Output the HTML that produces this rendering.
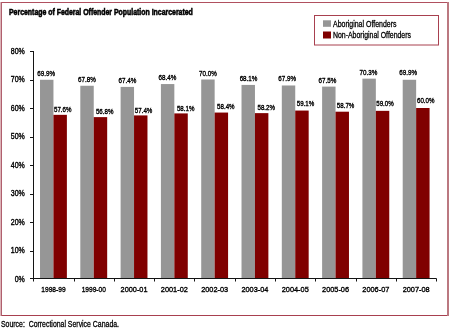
<!DOCTYPE html>
<html><head><meta charset="utf-8"><style>
html,body{margin:0;padding:0;background:#fff;width:450px;height:330px;overflow:hidden}
svg{display:block;position:absolute;left:0;top:0}
.t{filter:grayscale(1)}
</style></head><body>
<svg width="450" height="330" viewBox="0 0 450 330">
<rect x="0" y="2" width="1" height="314" fill="#dcb4b8"/>
<rect x="1" y="2" width="447" height="1" fill="#b0505f"/>
<rect x="1" y="315" width="448" height="1" fill="#a8404f"/>
<rect x="1" y="2" width="1" height="314" fill="#b0606e"/>
<rect x="447" y="2" width="2" height="314" fill="#bb7880"/>
<rect x="314.5" y="15.5" width="124" height="29.5" fill="none" stroke="#a8404f" stroke-width="1"/>
<rect x="323" y="20.3" width="8" height="6.5" fill="#969696"/>
<rect x="323" y="31.5" width="8" height="7" fill="#800000"/>
<rect x="40.02" y="79.78" width="13.43" height="199.22" fill="#969696"/>
<rect x="53.45" y="114.84" width="13.43" height="164.16" fill="#800000"/>
<rect x="80.31" y="85.77" width="13.43" height="193.23" fill="#969696"/>
<rect x="93.75" y="117.12" width="13.43" height="161.88" fill="#800000"/>
<rect x="120.61" y="86.91" width="13.43" height="192.09" fill="#969696"/>
<rect x="134.04" y="115.41" width="13.43" height="163.59" fill="#800000"/>
<rect x="160.91" y="84.06" width="13.43" height="194.94" fill="#969696"/>
<rect x="174.34" y="113.41" width="13.43" height="165.59" fill="#800000"/>
<rect x="201.22" y="79.50" width="13.43" height="199.50" fill="#969696"/>
<rect x="214.65" y="112.56" width="13.43" height="166.44" fill="#800000"/>
<rect x="241.52" y="84.92" width="13.43" height="194.08" fill="#969696"/>
<rect x="254.95" y="113.13" width="13.43" height="165.87" fill="#800000"/>
<rect x="281.81" y="85.48" width="13.43" height="193.52" fill="#969696"/>
<rect x="295.24" y="110.56" width="13.43" height="168.44" fill="#800000"/>
<rect x="322.11" y="86.62" width="13.43" height="192.38" fill="#969696"/>
<rect x="335.54" y="111.70" width="13.43" height="167.30" fill="#800000"/>
<rect x="362.41" y="78.65" width="13.43" height="200.35" fill="#969696"/>
<rect x="375.84" y="110.85" width="13.43" height="168.15" fill="#800000"/>
<rect x="402.71" y="79.78" width="13.43" height="199.22" fill="#969696"/>
<rect x="416.14" y="108.00" width="13.43" height="171.00" fill="#800000"/>
<line x1="33.5" y1="51" x2="33.5" y2="279" stroke="#141414" stroke-width="1"/>
<line x1="30" y1="278.5" x2="436.5" y2="278.5" stroke="#141414" stroke-width="1"/>
<line x1="30" y1="278.5" x2="33.5" y2="278.5" stroke="#141414" stroke-width="1"/>
<line x1="30" y1="251.5" x2="33.5" y2="251.5" stroke="#141414" stroke-width="1"/>
<line x1="30" y1="222.5" x2="33.5" y2="222.5" stroke="#141414" stroke-width="1"/>
<line x1="30" y1="194.5" x2="33.5" y2="194.5" stroke="#141414" stroke-width="1"/>
<line x1="30" y1="165.5" x2="33.5" y2="165.5" stroke="#141414" stroke-width="1"/>
<line x1="30" y1="137.5" x2="33.5" y2="137.5" stroke="#141414" stroke-width="1"/>
<line x1="30" y1="108.5" x2="33.5" y2="108.5" stroke="#141414" stroke-width="1"/>
<line x1="30" y1="80.5" x2="33.5" y2="80.5" stroke="#141414" stroke-width="1"/>
<line x1="30" y1="51.5" x2="33.5" y2="51.5" stroke="#141414" stroke-width="1"/>
<line x1="33.5" y1="278.5" x2="33.5" y2="281.5" stroke="#141414" stroke-width="1"/>
<line x1="74.5" y1="278.5" x2="74.5" y2="281.5" stroke="#141414" stroke-width="1"/>
<line x1="114.5" y1="278.5" x2="114.5" y2="281.5" stroke="#141414" stroke-width="1"/>
<line x1="154.5" y1="278.5" x2="154.5" y2="281.5" stroke="#141414" stroke-width="1"/>
<line x1="194.5" y1="278.5" x2="194.5" y2="281.5" stroke="#141414" stroke-width="1"/>
<line x1="235.5" y1="278.5" x2="235.5" y2="281.5" stroke="#141414" stroke-width="1"/>
<line x1="275.5" y1="278.5" x2="275.5" y2="281.5" stroke="#141414" stroke-width="1"/>
<line x1="315.5" y1="278.5" x2="315.5" y2="281.5" stroke="#141414" stroke-width="1"/>
<line x1="356.5" y1="278.5" x2="356.5" y2="281.5" stroke="#141414" stroke-width="1"/>
<line x1="396.5" y1="278.5" x2="396.5" y2="281.5" stroke="#141414" stroke-width="1"/>
<line x1="436.5" y1="278.5" x2="436.5" y2="281.5" stroke="#141414" stroke-width="1"/>
</svg>
<svg class="t" width="450" height="330" viewBox="0 0 450 330">
<text x="9" y="15.3" font-family='"Liberation Sans", sans-serif' font-weight="bold" font-size="8.3" textLength="183.8" lengthAdjust="spacingAndGlyphs" fill="#000" stroke="#000" stroke-width="0.55">Percentage of Federal Offender Population Incarcerated</text>
<text x="333" y="27" font-family='"Liberation Sans", sans-serif' font-size="8.4" textLength="63.5" lengthAdjust="spacingAndGlyphs" fill="#000" stroke="#000" stroke-width="0.3">Aboriginal Offenders</text>
<text x="333" y="38.3" font-family='"Liberation Sans", sans-serif' font-size="8.4" textLength="78" lengthAdjust="spacingAndGlyphs" fill="#000" stroke="#000" stroke-width="0.3">Non-Aboriginal Offenders</text>
<text x="46.13" y="75.98" text-anchor="middle" font-family='"Liberation Sans", sans-serif' font-size="7" textLength="17.8" lengthAdjust="spacingAndGlyphs" fill="#000" stroke="#000" stroke-width="0.35">69.9%</text>
<text x="62.71" y="111.54" text-anchor="middle" font-family='"Liberation Sans", sans-serif' font-size="7" textLength="17.5" lengthAdjust="spacingAndGlyphs" fill="#000" stroke="#000" stroke-width="0.35">57.6%</text>
<text x="53.45" y="291.9" text-anchor="middle" font-family='"Liberation Sans", sans-serif' font-size="8" textLength="24.2" lengthAdjust="spacingAndGlyphs" fill="#000" stroke="#000" stroke-width="0.35">1998-99</text>
<text x="86.93" y="81.97" text-anchor="middle" font-family='"Liberation Sans", sans-serif' font-size="7" textLength="17.8" lengthAdjust="spacingAndGlyphs" fill="#000" stroke="#000" stroke-width="0.35">67.8%</text>
<text x="104.66" y="113.62" text-anchor="middle" font-family='"Liberation Sans", sans-serif' font-size="7" textLength="17.5" lengthAdjust="spacingAndGlyphs" fill="#000" stroke="#000" stroke-width="0.35">56.8%</text>
<text x="93.75" y="291.9" text-anchor="middle" font-family='"Liberation Sans", sans-serif' font-size="8" textLength="24.2" lengthAdjust="spacingAndGlyphs" fill="#000" stroke="#000" stroke-width="0.35">1999-00</text>
<text x="127.33" y="82.91" text-anchor="middle" font-family='"Liberation Sans", sans-serif' font-size="7" textLength="17.8" lengthAdjust="spacingAndGlyphs" fill="#000" stroke="#000" stroke-width="0.35">67.4%</text>
<text x="143.61" y="113.11" text-anchor="middle" font-family='"Liberation Sans", sans-serif' font-size="7" textLength="17.5" lengthAdjust="spacingAndGlyphs" fill="#000" stroke="#000" stroke-width="0.35">57.4%</text>
<text x="134.05" y="291.9" text-anchor="middle" font-family='"Liberation Sans", sans-serif' font-size="8" textLength="27" lengthAdjust="spacingAndGlyphs" fill="#000" stroke="#000" stroke-width="0.35">2000-01</text>
<text x="167.38" y="80.16" text-anchor="middle" font-family='"Liberation Sans", sans-serif' font-size="7" textLength="17.8" lengthAdjust="spacingAndGlyphs" fill="#000" stroke="#000" stroke-width="0.35">68.4%</text>
<text x="185.66" y="110.51" text-anchor="middle" font-family='"Liberation Sans", sans-serif' font-size="7" textLength="17.5" lengthAdjust="spacingAndGlyphs" fill="#000" stroke="#000" stroke-width="0.35">58.1%</text>
<text x="174.35" y="291.9" text-anchor="middle" font-family='"Liberation Sans", sans-serif' font-size="8" textLength="27" lengthAdjust="spacingAndGlyphs" fill="#000" stroke="#000" stroke-width="0.35">2001-02</text>
<text x="207.93" y="75.60" text-anchor="middle" font-family='"Liberation Sans", sans-serif' font-size="7" textLength="17.8" lengthAdjust="spacingAndGlyphs" fill="#000" stroke="#000" stroke-width="0.35">70.0%</text>
<text x="225.86" y="109.46" text-anchor="middle" font-family='"Liberation Sans", sans-serif' font-size="7" textLength="17.5" lengthAdjust="spacingAndGlyphs" fill="#000" stroke="#000" stroke-width="0.35">58.4%</text>
<text x="214.65" y="291.9" text-anchor="middle" font-family='"Liberation Sans", sans-serif' font-size="8" textLength="27" lengthAdjust="spacingAndGlyphs" fill="#000" stroke="#000" stroke-width="0.35">2002-03</text>
<text x="248.53" y="81.12" text-anchor="middle" font-family='"Liberation Sans", sans-serif' font-size="7" textLength="17.8" lengthAdjust="spacingAndGlyphs" fill="#000" stroke="#000" stroke-width="0.35">68.1%</text>
<text x="266.26" y="110.13" text-anchor="middle" font-family='"Liberation Sans", sans-serif' font-size="7" textLength="17.5" lengthAdjust="spacingAndGlyphs" fill="#000" stroke="#000" stroke-width="0.35">58.2%</text>
<text x="254.95" y="291.9" text-anchor="middle" font-family='"Liberation Sans", sans-serif' font-size="8" textLength="27" lengthAdjust="spacingAndGlyphs" fill="#000" stroke="#000" stroke-width="0.35">2003-04</text>
<text x="287.18" y="80.68" text-anchor="middle" font-family='"Liberation Sans", sans-serif' font-size="7" textLength="17.8" lengthAdjust="spacingAndGlyphs" fill="#000" stroke="#000" stroke-width="0.35">67.9%</text>
<text x="305.46" y="106.36" text-anchor="middle" font-family='"Liberation Sans", sans-serif' font-size="7" textLength="17.5" lengthAdjust="spacingAndGlyphs" fill="#000" stroke="#000" stroke-width="0.35">59.1%</text>
<text x="295.25" y="291.9" text-anchor="middle" font-family='"Liberation Sans", sans-serif' font-size="8" textLength="27" lengthAdjust="spacingAndGlyphs" fill="#000" stroke="#000" stroke-width="0.35">2004-05</text>
<text x="327.48" y="82.53" text-anchor="middle" font-family='"Liberation Sans", sans-serif' font-size="7" textLength="17.8" lengthAdjust="spacingAndGlyphs" fill="#000" stroke="#000" stroke-width="0.35">67.5%</text>
<text x="345.61" y="108.20" text-anchor="middle" font-family='"Liberation Sans", sans-serif' font-size="7" textLength="17.5" lengthAdjust="spacingAndGlyphs" fill="#000" stroke="#000" stroke-width="0.35">58.7%</text>
<text x="335.55" y="291.9" text-anchor="middle" font-family='"Liberation Sans", sans-serif' font-size="8" textLength="27" lengthAdjust="spacingAndGlyphs" fill="#000" stroke="#000" stroke-width="0.35">2005-06</text>
<text x="368.38" y="74.55" text-anchor="middle" font-family='"Liberation Sans", sans-serif' font-size="7" textLength="17.8" lengthAdjust="spacingAndGlyphs" fill="#000" stroke="#000" stroke-width="0.35">70.3%</text>
<text x="385.01" y="106.15" text-anchor="middle" font-family='"Liberation Sans", sans-serif' font-size="7" textLength="17.5" lengthAdjust="spacingAndGlyphs" fill="#000" stroke="#000" stroke-width="0.35">59.0%</text>
<text x="375.85" y="291.9" text-anchor="middle" font-family='"Liberation Sans", sans-serif' font-size="8" textLength="27" lengthAdjust="spacingAndGlyphs" fill="#000" stroke="#000" stroke-width="0.35">2006-07</text>
<text x="408.13" y="75.08" text-anchor="middle" font-family='"Liberation Sans", sans-serif' font-size="7" textLength="17.8" lengthAdjust="spacingAndGlyphs" fill="#000" stroke="#000" stroke-width="0.35">69.9%</text>
<text x="425.76" y="102.80" text-anchor="middle" font-family='"Liberation Sans", sans-serif' font-size="7" textLength="17.5" lengthAdjust="spacingAndGlyphs" fill="#000" stroke="#000" stroke-width="0.35">60.0%</text>
<text x="416.15" y="291.9" text-anchor="middle" font-family='"Liberation Sans", sans-serif' font-size="8" textLength="27" lengthAdjust="spacingAndGlyphs" fill="#000" stroke="#000" stroke-width="0.35">2007-08</text>
<text x="24.8" y="282.00" text-anchor="end" font-family='"Liberation Sans", sans-serif' font-size="9" fill="#000" stroke="#000" stroke-width="0.4" transform="translate(24.8 0) scale(0.78 1) translate(-24.8 0)">0%</text>
<text x="24.8" y="253.50" text-anchor="end" font-family='"Liberation Sans", sans-serif' font-size="9" fill="#000" stroke="#000" stroke-width="0.4" transform="translate(24.8 0) scale(0.78 1) translate(-24.8 0)">10%</text>
<text x="24.8" y="225.00" text-anchor="end" font-family='"Liberation Sans", sans-serif' font-size="9" fill="#000" stroke="#000" stroke-width="0.4" transform="translate(24.8 0) scale(0.78 1) translate(-24.8 0)">20%</text>
<text x="24.8" y="196.50" text-anchor="end" font-family='"Liberation Sans", sans-serif' font-size="9" fill="#000" stroke="#000" stroke-width="0.4" transform="translate(24.8 0) scale(0.78 1) translate(-24.8 0)">30%</text>
<text x="24.8" y="168.00" text-anchor="end" font-family='"Liberation Sans", sans-serif' font-size="9" fill="#000" stroke="#000" stroke-width="0.4" transform="translate(24.8 0) scale(0.78 1) translate(-24.8 0)">40%</text>
<text x="24.8" y="139.50" text-anchor="end" font-family='"Liberation Sans", sans-serif' font-size="9" fill="#000" stroke="#000" stroke-width="0.4" transform="translate(24.8 0) scale(0.78 1) translate(-24.8 0)">50%</text>
<text x="24.8" y="111.00" text-anchor="end" font-family='"Liberation Sans", sans-serif' font-size="9" fill="#000" stroke="#000" stroke-width="0.4" transform="translate(24.8 0) scale(0.78 1) translate(-24.8 0)">60%</text>
<text x="24.8" y="82.50" text-anchor="end" font-family='"Liberation Sans", sans-serif' font-size="9" fill="#000" stroke="#000" stroke-width="0.4" transform="translate(24.8 0) scale(0.78 1) translate(-24.8 0)">70%</text>
<text x="24.8" y="54.00" text-anchor="end" font-family='"Liberation Sans", sans-serif' font-size="9" fill="#000" stroke="#000" stroke-width="0.4" transform="translate(24.8 0) scale(0.78 1) translate(-24.8 0)">80%</text>
<text x="1" y="327.3" font-family='"Liberation Sans", sans-serif' font-size="8.6" textLength="118" lengthAdjust="spacingAndGlyphs" fill="#000" stroke="#000" stroke-width="0.3" xml:space="preserve">Source:  Correctional Service Canada.</text>
</svg>
</body></html>
